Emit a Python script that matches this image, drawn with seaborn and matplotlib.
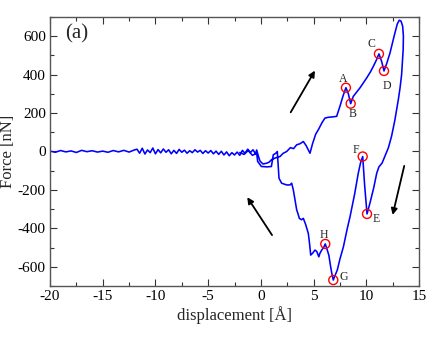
import numpy as np
import pandas as pd
import matplotlib
matplotlib.use('Agg')
import matplotlib.pyplot as plt
import seaborn as sns

# ── data ─────────────────────────────────────────────────────────────────────
# flat, noisy part of the approach curve
x_flat = [-20, -19.5, -19, -18.5, -18, -17.5, -17, -16.5, -16, -15.5, -15,
          -14.5, -14, -13.5, -13, -12.5, -12,
          -11.75, -11.5, -11.25, -11, -10.75, -10.5, -10.25, -10, -9.75, -9.5,
          -9.25, -9, -8.75, -8.5, -8.25, -8, -7.75, -7.5, -7.25, -7, -6.75,
          -6.5, -6.25, -6, -5.75, -5.5, -5.25, -5, -4.75, -4.5, -4.25, -4,
          -3.75, -3.5, -3.25, -3, -2.75, -2.5, -2.25, -2, -1.75, -1.5, -1.25,
          -1, -0.75, -0.5, -0.4]
f_flat = [2, -4, 5, -2, 3, -5, 6, -1, 4, -3, 2, -4, 5, -2, 6, -3, 8,
          12, -9, 17, -13, 8, -6, 18, -12, 10, -7,
          13, -4, 9, -12, 6, -10, 11, -4, 7, -9, 4,
          -6, 9, -3, 6, -10, 4, -8, 5, -12, 2, -15,
          1, -18, -2, -22, -6, -18, -3, -20, 6, -10, 12,
          -6, 9, -12, 8]

# approach branch (loading)
x_app = [-0.2, -0.08, 0.2, 0.55, 0.8, 1.0, 1.3, 1.82, 2.1, 2.45, 2.8, 3.1,
         3.4, 3.7, 4.03, 4.3, 4.66, 4.9, 5.2, 5.45, 5.8, 6.08, 6.4, 6.8,
         7.19, 7.5, 7.8, 8.07, 8.3, 8.52, 8.77, 9.1, 9.4, 9.7, 10.04, 10.4,
         10.67, 10.95, 11.2, 11.45, 11.68, 11.95, 12.25, 12.5, 12.72, 12.95,
         13.13, 13.3, 13.45, 13.52, 13.5]
f_app = [-30, -50, -65, -61, -55, -43, -35, -26, -10, 0, 20, 15,
         35, 40, 52, 30, -9, 40, 90, 113, 150, 174, 178, 180,
         183, 235, 290, 332, 300, 249, 287, 310, 331, 355, 383, 415,
         443, 475, 508, 470, 419, 460, 513, 570, 618, 665,
         683, 678, 652, 600, 530]

# retraction branch (unloading)
x_ret = [13.35, 13.2, 13.04, 12.7, 12.4, 12.1, 11.8, 11.5, 11.2, 10.99, 10.7,
         10.35, 10.07, 9.85, 9.66, 9.45, 9.24, 8.9, 8.46, 8.2, 7.83, 7.5,
         7.25, 7.0, 6.87, 6.75, 6.62, 6.45, 6.3, 6.11, 5.95, 5.77, 5.6, 5.5,
         5.3, 5.13, 4.9, 4.73, 4.6, 4.5, 4.25, 4.03, 3.85, 3.65, 3.5, 3.4,
         3.24, 3.08, 2.92, 2.76, 2.45, 1.97, 1.72, 1.6, 1.56, 1.4, 1.18, 1.0,
         0.6, 0.05, -0.3, -0.4, -0.8, -1.2, -1.6, -2.0]
f_ret = [400, 330, 270, 160, 80, 20, -20, -60, -80, -113, -190,
         -268, -325, -180, -26, -60, -113, -220, -339, -400, -496, -560,
         -617, -650, -669, -640, -600, -540, -513, -481, -500, -513, -530, -548,
         -520, -513, -530, -539, -470, -426, -380, -348, -355, -348, -320, -304,
         -252, -200, -165, -174, -174, -165, -139, -40, 0, -10, -17, -78,
         -80, -78, -52, -9, -20, 5, -15, -5]

# marked events
ev_labels = ['A', 'B', 'C', 'D', 'E', 'F', 'G', 'H']
ev_x = [8.07, 8.52, 11.2, 11.68, 10.07, 9.66, 6.87, 6.11]
ev_f = [332, 249, 508, 419, -325, -26, -669, -481]
lab_x = [7.82, 8.67, 10.5, 12.0, 10.99, 9.0, 7.89, 6.02]
lab_f = [379, 197, 560, 339, -351, 9, -655, -435]

df = pd.DataFrame({'disp': x_flat + x_app + x_ret,
                   'force': f_flat + f_app + f_ret})

# ── style ────────────────────────────────────────────────────────────────────
sns.set_style('ticks')
plt.rcParams['font.family'] = ['Liberation Serif', 'DejaVu Serif']
plt.rcParams['axes.unicode_minus'] = False

fig = plt.figure(figsize=(4.36, 3.37), dpi=100)
ax = fig.add_axes([0.1147, 0.1513, 0.8463, 0.7983])

sns.lineplot(data=df, x='disp', y='force', sort=False, estimator=None,
             color='#0000ff', lw=1.15, ax=ax)
sns.scatterplot(x=ev_x, y=ev_f, s=42, marker='o', facecolor='none',
                edgecolor='red', linewidth=1.0, ax=ax, zorder=5)
for t, lx, ly in zip(ev_labels, lab_x, lab_f):
    ax.text(lx, ly, t, fontsize=8.5, ha='center', va='center')

# direction arrows
arw = dict(arrowstyle='-|>', color='black', lw=1.3, mutation_scale=9,
           shrinkA=0, shrinkB=0)
ax.annotate('', xy=(5.13, 421), xytext=(2.83, 204), arrowprops=arw)
ax.annotate('', xy=(12.5, -330), xytext=(13.6, -75), arrowprops=arw)
ax.annotate('', xy=(-1.29, -238), xytext=(1.06, -435), arrowprops=arw)

ax.text(-18.6, 612, '(a)', fontsize=15, ha='left', va='center')

ax.set_xlim(-20, 15)
ax.set_ylim(-700, 700)
ax.set_xticks(np.arange(-20, 16, 5))
ax.set_yticks(np.arange(-600, 601, 200))
ax.set_xticks(np.arange(-20, 15.1, 2.5), minor=True)
ax.set_yticks(np.arange(-700, 701, 100), minor=True)
ax.tick_params(which='both', direction='in', top=True, right=True,
               labelsize=11, colors='#333333', labelcolor='black', pad=3)
ax.tick_params(which='major', length=5, width=0.8)
ax.tick_params(which='minor', length=3, width=0.8)
for s in ax.spines.values():
    s.set_visible(True)
    s.set_color('#555555')
    s.set_linewidth(1.0)

ax.set_xlabel('displacement [Å]', fontsize=12, labelpad=2)
ax.set_ylabel('Force [nN]', fontsize=12, labelpad=1)

plt.savefig('out.png', dpi=100)
plt.close()
